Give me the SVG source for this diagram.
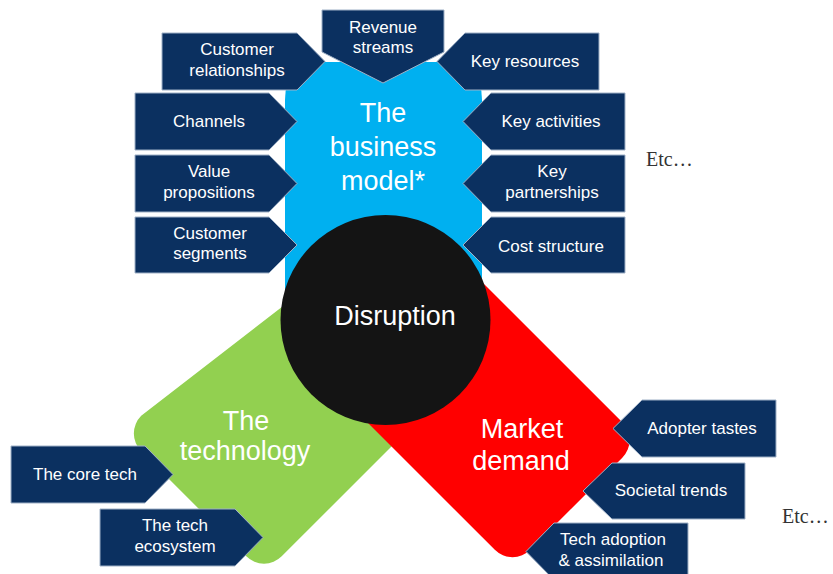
<svg xmlns="http://www.w3.org/2000/svg" width="833" height="574" viewBox="0 0 833 574">
  <style>
    .box { fill: #0b3060; stroke: #9fb0c6; stroke-width: 1; }
    .lbl { font-family: "Liberation Sans", "DejaVu Sans", sans-serif; font-size: 17px; fill: #ffffff; text-anchor: middle; }
    .big { font-family: "Liberation Sans", "DejaVu Sans", sans-serif; font-size: 27px; fill: #ffffff; text-anchor: middle; }
    .etc { font-family: "Liberation Serif", "DejaVu Serif", serif; font-size: 20px; fill: #333333; }
  </style>
  <rect width="833" height="574" fill="#ffffff"/>

  <!-- Business model column -->
  <g id="business-model">
    <path d="M285,330 L285,100 Q285,62 323,62 L444,62 Q482,62 482,100 L482,330 Z" fill="#00b0f0"/>
  </g>

  <!-- Technology band (runs down to the lower left) -->
  <g id="technology">
    <path d="M332.7,267.7 L141.2,415.8 A25,25 0 0 0 141.2,451.2 L246.3,556.3 A25,25 0 0 0 281.7,556.3 L440,398 L385,320 Z" fill="#92d050"/>
  </g>

  <!-- Market demand band (runs down to the lower right) -->
  <g id="market-demand">
    <path d="M325,380 L494.8,549.8 A25,25 0 0 0 530.2,549.8 L622.3,457.7 A25,25 0 0 0 622.3,422.3 L452.5,252.5 Z" fill="#ff0000"/>
  </g>

  <!-- Central disruption disc -->
  <g id="disruption">
    <circle cx="385.5" cy="320" r="105" fill="#141414"/>
  </g>

  <!-- Band and disc titles -->
  <g id="titles">
    <text class="big" x="383" y="122">The</text>
    <text class="big" x="383" y="156">business</text>
    <text class="big" x="383" y="190">model*</text>
    <text class="big" x="395" y="325" font-size="30">Disruption</text>
    <text class="big" x="246" y="430">The</text>
    <text class="big" x="245" y="460">technology</text>
    <text class="big" x="522" y="438">Market</text>
    <text class="big" x="521" y="470">demand</text>
  </g>

  <!-- Business model building blocks -->
  <g id="customer-relationships">
    <polygon class="box" points="162,33 297,33 325,61.5 297,90 162,90"/>
    <text class="lbl" x="237" y="55">Customer</text>
    <text class="lbl" x="237" y="76">relationships</text>
  </g>
  <g id="revenue-streams">
    <polygon class="box" points="322,10 444,10 444,52 383,83 322,52"/>
    <text class="lbl" x="383" y="33">Revenue</text>
    <text class="lbl" x="383" y="53">streams</text>
  </g>
  <g id="key-resources">
    <polygon class="box" points="437,61.5 465,33 599,33 599,90 465,90"/>
    <text class="lbl" x="525" y="67">Key resources</text>
  </g>
  <g id="channels">
    <polygon class="box" points="135,93 269,93 297,121.5 269,150 135,150"/>
    <text class="lbl" x="209" y="127">Channels</text>
  </g>
  <g id="key-activities">
    <polygon class="box" points="463,121.5 491,93 625,93 625,150 491,150"/>
    <text class="lbl" x="551" y="127">Key activities</text>
  </g>
  <g id="value-propositions">
    <polygon class="box" points="135,155 269,155 297,183.5 269,212 135,212"/>
    <text class="lbl" x="209" y="177">Value</text>
    <text class="lbl" x="209" y="198">propositions</text>
  </g>
  <g id="key-partnerships">
    <polygon class="box" points="463,183.5 491,155 625,155 625,212 491,212"/>
    <text class="lbl" x="552" y="177">Key</text>
    <text class="lbl" x="552" y="198">partnerships</text>
  </g>
  <g id="customer-segments">
    <polygon class="box" points="135,217 269,217 297,245 269,273 135,273"/>
    <text class="lbl" x="210" y="239">Customer</text>
    <text class="lbl" x="210" y="259">segments</text>
  </g>
  <g id="cost-structure">
    <polygon class="box" points="463,245 491,217 625,217 625,273 491,273"/>
    <text class="lbl" x="551" y="252">Cost structure</text>
  </g>

  <!-- Technology factors -->
  <g id="core-tech">
    <polygon class="box" points="11,446 145,446 173,474.5 145,503 11,503"/>
    <text class="lbl" x="85" y="480">The core tech</text>
  </g>
  <g id="tech-ecosystem">
    <polygon class="box" points="100,509 235,509 263,537.5 235,566 100,566"/>
    <text class="lbl" x="175" y="531">The tech</text>
    <text class="lbl" x="175" y="552">ecosystem</text>
  </g>

  <!-- Market demand factors -->
  <g id="adopter-tastes">
    <polygon class="box" points="613,428.5 642,400 776,400 776,457 642,457"/>
    <text class="lbl" x="702" y="434">Adopter tastes</text>
  </g>
  <g id="societal-trends">
    <polygon class="box" points="583,491 612,463 745,463 745,519 612,519"/>
    <text class="lbl" x="671" y="496">Societal trends</text>
  </g>
  <g id="tech-adoption">
    <polygon class="box" points="526,551.5 554,523 688,523 688,580 554,580"/>
    <text class="lbl" x="613" y="545">Tech adoption</text>
    <text class="lbl" x="611" y="566">&amp; assimilation</text>
  </g>

  <!-- Trailing notes -->
  <g id="notes">
    <text class="etc" x="646" y="166">Etc…</text>
    <text class="etc" x="782" y="523">Etc…</text>
  </g>
</svg>
